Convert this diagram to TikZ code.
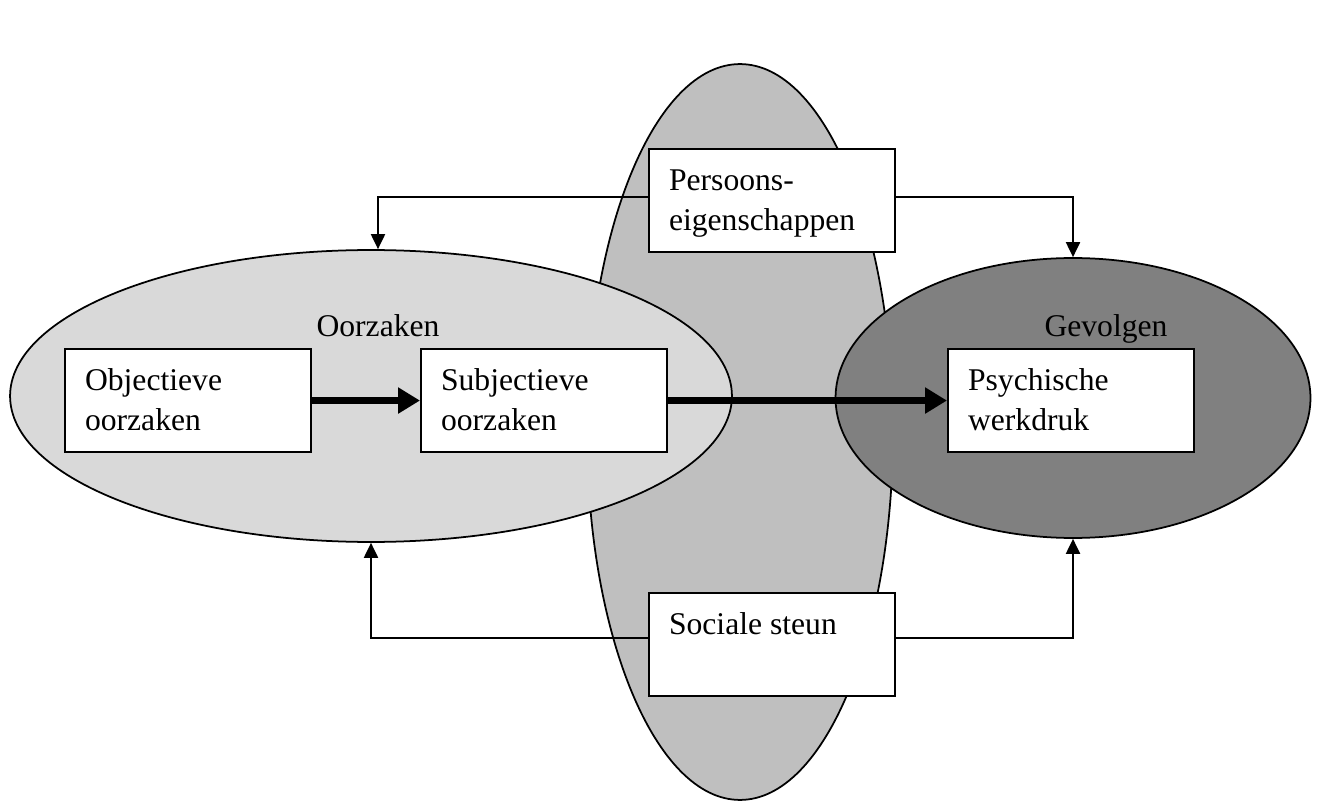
\documentclass[tikz,border=0pt]{standalone}
\usepackage{fontspec}
\setmainfont{Liberation Serif}
\usetikzlibrary{shapes.geometric,arrows.meta}
\colorlet{ring area}{black!25}
\colorlet{cause area}{black!15}
\colorlet{effect area}{black!50}
\tikzset{zone/.style={ellipse, draw=black, line width=1pt, inner sep=0pt},
    textbox/.style={draw=black, line width=1.2pt, fill=white, inner xsep=0.4cm, inner ysep=0.285cm, anchor=north west},
    heavy/.style={line width=0.14cm, -{Triangle[length=0.44cm,width=0.5cm]}},
    light/.style={line width=0.04cm, -{Triangle[length=0.3cm,width=0.28cm]}}}
\newcommand{\boxtxt}[1]{\parbox[t][1.49cm][t]{4.12cm}{\strut #1}}

\begin{document}
\begin{tikzpicture}[x=0.02cm, y=-0.02cm, font=\fontsize{18}{22.5}\selectfont]
    \useasboundingbox (0,0) rectangle (1324,803);
    % the three zones
    \node[zone, fill=ring area, minimum width=6.12cm, minimum height=14.72cm] (ring) at (740,432) {};
    \node[zone, fill=cause area, minimum width=14.44cm, minimum height=5.84cm] (oorz) at (371,396) {};
    \node[zone, fill=effect area, minimum width=9.5cm, minimum height=5.6cm] (gev) at (1073,398) {};
    \node (oorzlabel) at (378,326) {Oorzaken};
    \node (gevlabel) at (1106,329) {Gevolgen};
    % boxes
    \node[textbox] (obj) at (64,348) {\boxtxt{Objectieve\\oorzaken}};
    \node[textbox] (subj) at (420,348) {\boxtxt{Subjectieve\\oorzaken}};
    \node[textbox] (psy) at (947,348) {\boxtxt{Psychische\\werkdruk}};
    \node[textbox] (pers) at (648,148) {\boxtxt{Persoons-\\eigenschappen}};
    \node[textbox] (soc) at (648,592) {\boxtxt{Sociale steun}};
    % arrows
    \draw[heavy] (obj) -- (subj);
    \draw[heavy] (subj) -- (psy);
    \draw[light] ([yshift=0.07cm]pers.west) -| ([xshift=0.14cm]oorz.north);
    \draw[light] ([yshift=0.07cm]pers.east) -| (gev.north);
    \draw[light] ([yshift=0.14cm]soc.west) -| (oorz.south);
    \draw[light] ([yshift=0.14cm]soc.east) -| (gev.south);
\end{tikzpicture}
\end{document}
